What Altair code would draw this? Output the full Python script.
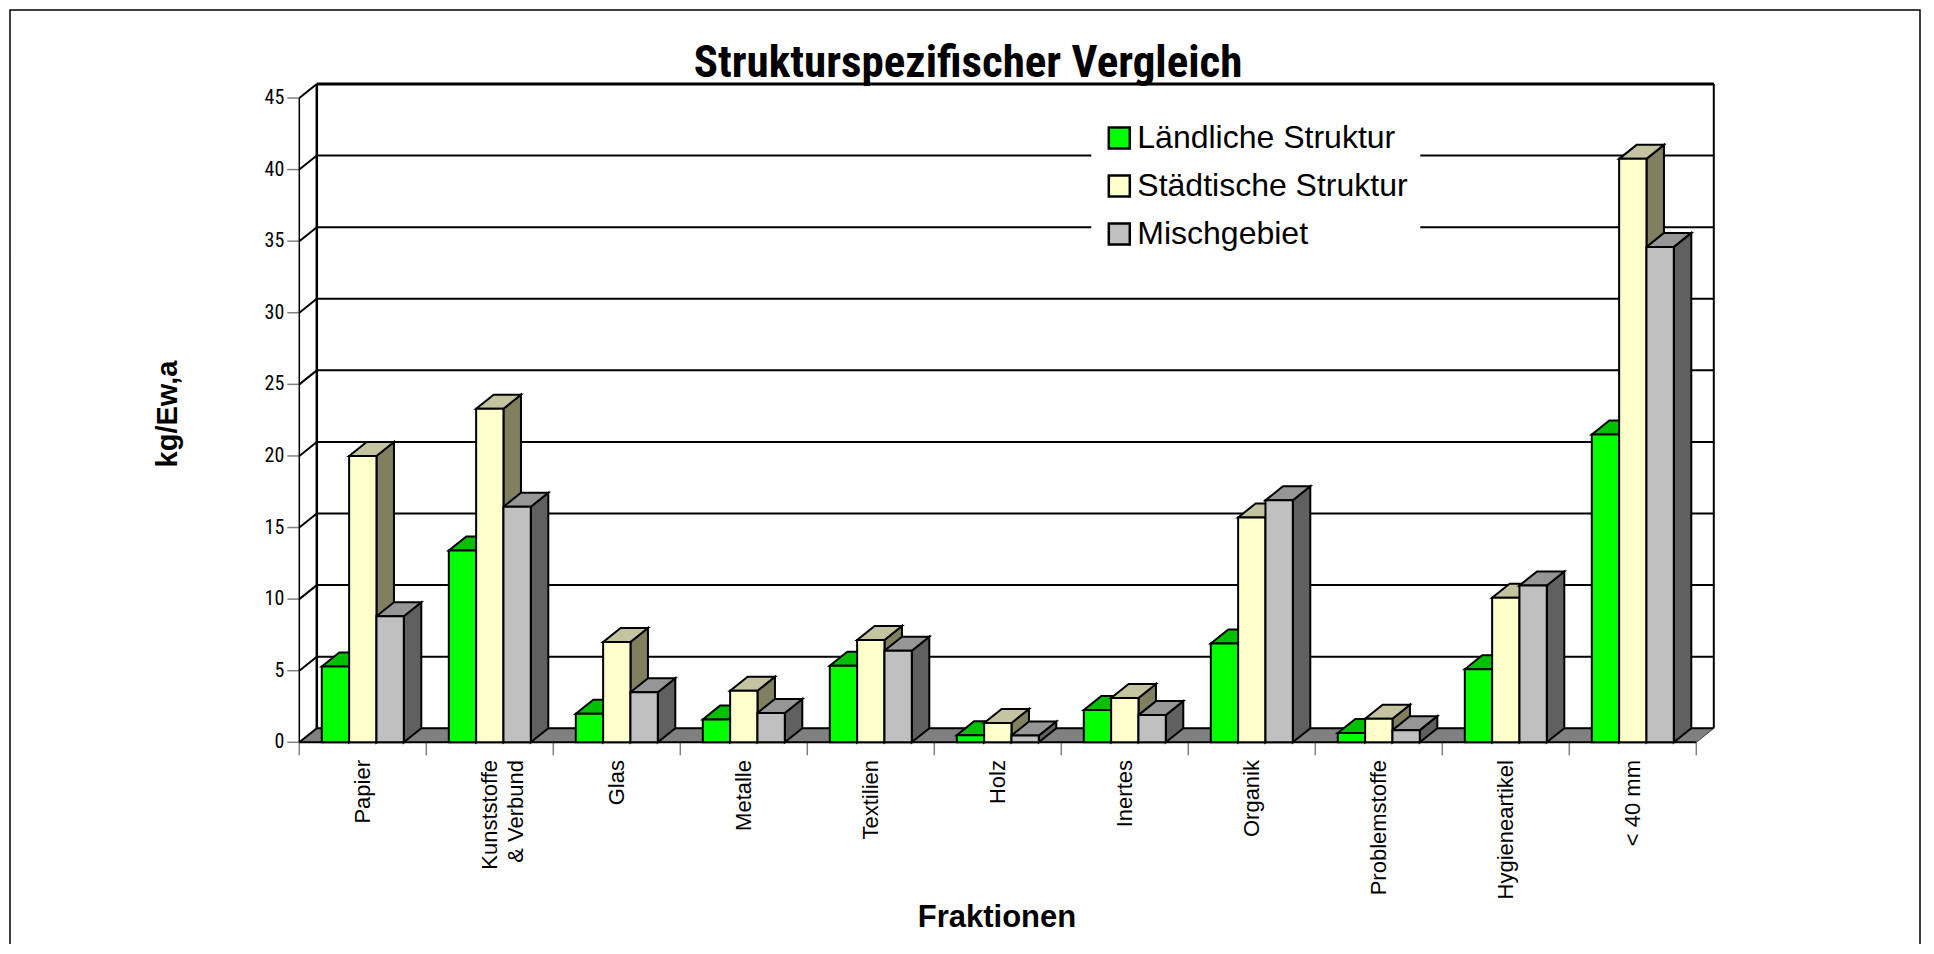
import altair as alt
import pandas as pd

# ---------------- data ----------------
categories = ["Papier", "Kunststoffe\n& Verbund", "Glas", "Metalle", "Textilien", "Holz",
              "Inertes", "Organik", "Problemstoffe", "Hygieneartikel", "< 40 mm"]
series = ["Ländliche Struktur", "Städtische Struktur", "Mischgebiet"]
laendlich = [5.3, 13.4, 2.0, 1.6, 5.35, 0.5, 2.25, 6.9, 0.65, 5.1, 21.5]
staedtisch = [20.0, 23.3, 7.0, 3.6, 7.15, 1.35, 3.1, 15.7, 1.65, 10.1, 40.75]
misch = [8.8, 16.45, 3.5, 2.05, 6.4, 0.47, 1.9, 16.9, 0.85, 10.95, 34.6]
y_ticks = [0, 5, 10, 15, 20, 25, 30, 35, 40, 45]
title_text = "Strukturspezifischer Vergleich"
x_title = "Fraktionen"
y_title = "kg/Ew,a"

front_colors = ["#00FF00", "#FFFFCC", "#C0C0C0"]
top_colors = ["#00C000", "#C4C4A0", "#969696"]
side_colors = ["#00A000", "#808060", "#606060"]

# ---------------- layout (pixels) ----------------
CAT_PX = 127.0
DX_PX = 17.5
DY_PX = 14.0
Y_MAX = 45
PX_PER_UNIT = 644.3 / 45
N = len(categories)
W = N * CAT_PX + DX_PX
H = Y_MAX * PX_PER_UNIT + DY_PX
dX = DX_PX / CAT_PX
dY = DY_PX / PX_PER_UNIT
GROUP_OFF = 22.5 / CAT_PX
BAR_W = 27.33 / CAT_PX

SANS = "Liberation Sans, Arial"
NARROW = "Roboto Condensed, Liberation Sans"

values = [laendlich, staedtisch, misch]

front_rows, side_rows, top_rows = [], [], []
bar_id = 0
for i, cat in enumerate(categories):
    for j, s in enumerate(series):
        v = values[j][i]
        a = i + GROUP_OFF + j * BAR_W
        front_rows.append(dict(cat=cat, series=s, x=a, x2=a + BAR_W, y=0.0, y2=v))
        side_rows.append(dict(bar=bar_id, x=a + BAR_W, y=0.0, y2=v, col=side_colors[j]))
        side_rows.append(dict(bar=bar_id, x=a + BAR_W + dX, y=dY, y2=v + dY, col=side_colors[j]))
        top_rows.append(dict(bar=bar_id, y=v, x=a, x2=a + BAR_W, col=top_colors[j]))
        top_rows.append(dict(bar=bar_id, y=v + dY, x=a + dX, x2=a + BAR_W + dX, col=top_colors[j]))
        bar_id += 1

front_df = pd.DataFrame(front_rows)
side_df = pd.DataFrame(side_rows)
top_df = pd.DataFrame(top_rows)
grid_df = pd.DataFrame([dict(v=t, lab=str(t), yb=t + dY, x0=0.0, xb=dX, xe=N + dX) for t in y_ticks])
wall_df = pd.DataFrame([dict(x0=0.0, xb=dX, xe=N + dX, xf=float(N), y0=0.0, yb=dY,
                             ytop=Y_MAX + dY, yfront=float(Y_MAX))])
floor_df = pd.DataFrame([dict(y=0.0, x=0.0, x2=float(N)), dict(y=dY, x=dX, x2=N + dX)])
label_df = pd.DataFrame([dict(cat=c, xc=i + 0.5) for i, c in enumerate(categories)])
xtick_df = pd.DataFrame([dict(k=float(k)) for k in range(N + 1)])
text_df = pd.DataFrame([dict(t=title_text, xt=x_title, yt=y_title)])

xs = alt.Scale(domain=[0, N + dX], nice=False, zero=False)
ys = alt.Scale(domain=[0, Y_MAX + dY], nice=False, zero=False)


def X(f, **kw):
    return alt.X(f, type="quantitative", scale=xs, axis=None, **kw)


def Y(f, **kw):
    return alt.Y(f, type="quantitative", scale=ys, axis=None, **kw)


floor = alt.Chart(floor_df).mark_area(orient="horizontal", fill="#808080", stroke="#404040",
                                      strokeWidth=1).encode(
    y=Y("y", stack=None), x=X("x", stack=None), x2="x2:Q")

gridlines = alt.Chart(grid_df).mark_rule(color="black", strokeWidth=2).encode(
    x=X("xb"), x2="xe:Q", y=Y("yb"))
diagonals = alt.Chart(grid_df).mark_rule(color="black", strokeWidth=2).encode(
    x=X("x0"), x2="xb:Q", y=Y("v"), y2="yb:Q")
yticks = alt.Chart(grid_df).mark_rule(color="#808080", strokeWidth=1.5).encode(
    x=alt.value(-12), x2=alt.value(0), y=Y("v"))
ylabels = alt.Chart(grid_df).mark_text(align="right", baseline="middle", font=NARROW,
                                       fontSize=20, color="black").encode(
    x=alt.value(-15), y=Y("v"), text="lab:N")
xticks = alt.Chart(xtick_df).mark_rule(color="#808080", strokeWidth=1.5).encode(
    x=X("k"), y=alt.value(H), y2=alt.value(H + 13))

front_axis = alt.Chart(wall_df).mark_rule(color="black", strokeWidth=1.5).encode(
    x=X("x0"), y=Y("y0"), y2="yfront:Q")
left_edge = alt.Chart(wall_df).mark_rule(color="black", strokeWidth=2.5).encode(
    x=X("xb"), y=Y("yb"), y2="ytop:Q")
right_edge = alt.Chart(wall_df).mark_rule(color="black", strokeWidth=2).encode(
    x=X("xe"), y=Y("yb"), y2="ytop:Q")
top_edge = alt.Chart(wall_df).mark_rule(color="black", strokeWidth=3).encode(
    x=X("xb"), x2="xe:Q", y=Y("ytop"))
floor_front = alt.Chart(wall_df).mark_rule(color="black", strokeWidth=2).encode(
    x=X("x0"), x2="xf:Q", y=Y("y0"))

sides = alt.Chart(side_df).mark_area(orient="vertical", stroke="black", strokeWidth=2,
                                     strokeJoin="miter").encode(
    x=X("x"), y=Y("y", stack=None), y2="y2:Q",
    fill=alt.Fill("col:N", scale=None), detail="bar:N")
tops = alt.Chart(top_df).mark_area(orient="horizontal", stroke="black", strokeWidth=2,
                                   strokeJoin="miter").encode(
    y=Y("y"), x=X("x", stack=None), x2="x2:Q",
    fill=alt.Fill("col:N", scale=None), detail="bar:N")
fronts = alt.Chart(front_df).mark_rect(stroke="black", strokeWidth=2, strokeJoin="miter").encode(
    x=X("x"), x2="x2:Q", y=Y("y"), y2="y2:Q",
    color=alt.Color("series:N", sort=series,
                    scale=alt.Scale(domain=series, range=front_colors),
                    legend=alt.Legend(orient="none", legendX=792, legendY=26.1, title=None,
                                      labelFont=SANS, labelFontSize=32, labelColor="black",
                                      symbolType="square", symbolSize=441,
                                      symbolStrokeColor="black", symbolStrokeWidth=2.5,
                                      symbolOpacity=1, rowPadding=16, labelOffset=2,
                                      padding=12, fillColor="white", labelLimit=0)))

cat_labels = alt.Chart(label_df).mark_text(angle=270, align="right", baseline="middle",
                                           font=SANS, fontSize=22, color="black",
                                           lineBreak="\n", lineHeight=26).encode(
    x=X("xc"), y=alt.value(H + 17.7), text="cat:N")

title = alt.Chart(text_df).mark_text(align="center", baseline="alphabetic", font=NARROW,
                                     fontSize=45, fontWeight="bold", color="black").encode(
    x=alt.value(668.7), y=alt.value(-7), text="t:N")
xtitle = alt.Chart(text_df).mark_text(align="center", baseline="alphabetic", font=SANS,
                                      fontSize=31, fontWeight="bold", color="black").encode(
    x=alt.value(697.7), y=alt.value(H + 184.7), text="xt:N")
ytitle = alt.Chart(text_df).mark_text(align="center", baseline="middle", angle=270, font=SANS,
                                      fontSize=29, fontWeight="bold", color="black").encode(
    x=alt.value(-131.3), y=alt.value(330), text="yt:N")

frame = alt.Chart(text_df).mark_rect(fill="transparent", stroke="black", strokeWidth=1.5).encode(
    x=alt.value(-289.3), x2=alt.value(1620.7), y=alt.value(-74), y2=alt.value(900))

chart = alt.layer(
    floor, gridlines, diagonals, yticks, ylabels, xticks, front_axis, left_edge, right_edge,
    top_edge, floor_front, sides, tops, fronts, cat_labels, title, xtitle, ytitle, frame
).properties(
    width=W, height=H,
    padding={"left": 291.3, "top": 76, "right": 212.2, "bottom": 201.7},
    autosize=alt.AutoSizeParams(type="none"),
    background="white",
).configure_view(strokeWidth=0)

chart.save("out.html", embed_options={"renderer": "svg", "actions": False})
